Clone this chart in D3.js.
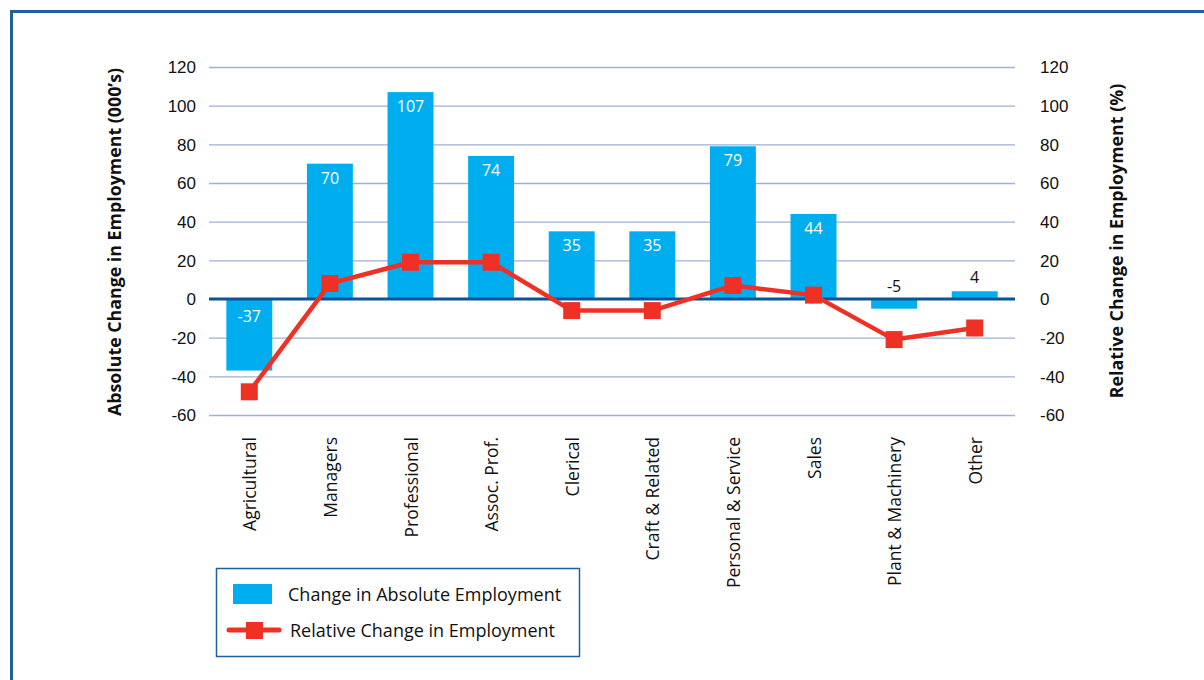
<!DOCTYPE html>
<html><head><meta charset="utf-8">
<script src="https://cdn.jsdelivr.net/npm/d3@7"></script>
<style>
html,body{margin:0;padding:0;background:#fff;}
svg{display:block;font-family:"Open Sans","Noto Sans",sans-serif;}
</style></head>
<body>
<svg id="chart" width="1204" height="680"></svg>
<script>
const categories = ["Agricultural","Managers","Professional","Assoc. Prof.","Clerical","Craft & Related","Personal & Service","Sales","Plant & Machinery","Other"];
const absoluteChange = [-37,70,107,74,35,35,79,44,-5,4];
const relativeChange = [-48,8,19,19,-6,-6,7,2,-21,-15];
const yTicks = [-60,-40,-20,0,20,40,60,80,100,120];
const seriesNames = ["Change in Absolute Employment","Relative Change in Employment"];
const leftTitle = "Absolute Change in Employment (000\u2019s)";
const rightTitle = "Relative Change in Employment (%)";

const svg = d3.select("#chart");
const barColor = "#00aeef", lineColor = "#ee3124", gridColor = "#9fb1d6", zeroColor = "#0b5394", frameColor = "#1f5fa3";

// frame
svg.append("rect").attr("x",11.5).attr("y",11.5).attr("width",1204).attr("height",700)
  .attr("fill","none").attr("stroke",frameColor).attr("stroke-width",3);

const x0 = 209, x1 = 1015;
const x = d3.scaleBand().domain(categories).range([x0,x1]).paddingInner(0.43).paddingOuter(0.215);
const y = d3.scaleLinear().domain([-60,120]).range([415,67]);
const yR = d3.scaleLinear().domain([-60,120]).range([415,67]);

// gridlines
svg.append("g").selectAll("line").data(yTicks.filter(d=>d!==0)).join("line")
  .attr("x1",x0).attr("x2",x1).attr("y1",d=>y(d)+0.5).attr("y2",d=>y(d)+0.5)
  .attr("stroke",gridColor).attr("stroke-width",1.3);

// left axis
const fmt = d => String(d);
const leftAxis = d3.axisLeft(y).tickValues(yTicks).tickFormat(fmt).tickSize(0).tickPadding(0);
const gL = svg.append("g").attr("transform","translate(196,0)").call(leftAxis);
gL.select(".domain").remove();
gL.selectAll("text").attr("font-size",17).attr("fill","#111").attr("font-family",null).attr("dy","0.35em");

// right axis
const rightAxis = d3.axisRight(yR).tickValues(yTicks).tickFormat(fmt).tickSize(0).tickPadding(0);
const gR = svg.append("g").attr("transform","translate(1040,0)").call(rightAxis);
gR.select(".domain").remove();
gR.selectAll("text").attr("font-size",17).attr("fill","#111").attr("font-family",null).attr("dy","0.35em");

// bars
const bw = x.bandwidth();
svg.append("g").selectAll("rect").data(absoluteChange).join("rect")
  .attr("x",(d,i)=>x(categories[i]))
  .attr("width",bw)
  .attr("y",d=>y(Math.max(0,d)))
  .attr("height",d=>Math.abs(y(d)-y(0)))
  .attr("fill",barColor);

// zero line
svg.append("line").attr("x1",x0).attr("x2",x1).attr("y1",y(0)).attr("y2",y(0))
  .attr("stroke",zeroColor).attr("stroke-width",3);

// bar labels
svg.append("g").selectAll("text").data(absoluteChange).join("text")
  .attr("x",(d,i)=>x(categories[i])+bw/2)
  .attr("y",d=>{
    if (Math.abs(d) < 10) return d>=0 ? y(d)-8 : y(0)-7;
    return d>=0 ? y(d)+20 : y(0)+23;
  })
  .attr("text-anchor","middle").attr("font-size",16)
  .attr("fill",d=>Math.abs(d)<10?"#111":"#fff")
  .text(d=>d);

// line
const line = d3.line().x((d,i)=>x(categories[i])+bw/2).y(d=>yR(d));
svg.append("path").datum(relativeChange).attr("d",line)
  .attr("fill","none").attr("stroke",lineColor).attr("stroke-width",4.5).attr("stroke-linejoin","round");
const ms = 17;
svg.append("g").selectAll("rect").data(relativeChange).join("rect")
  .attr("x",(d,i)=>x(categories[i])+bw/2-ms/2)
  .attr("y",d=>yR(d)-ms/2)
  .attr("width",ms).attr("height",ms).attr("fill",lineColor);

// category labels
svg.append("g").selectAll("text").data(categories).join("text")
  .attr("transform",d=>`translate(${x(d)+bw/2+7},437) rotate(-90)`)
  .attr("text-anchor","end").attr("font-size",17.5).attr("fill","#111")
  .text(d=>d);

// axis titles
svg.append("text").attr("transform","translate(121,242) rotate(-90)")
  .attr("text-anchor","middle").attr("font-size",17.8).attr("font-weight","bold").attr("fill","#111")
  .text(leftTitle);
svg.append("text").attr("transform","translate(1123,241) rotate(-90)")
  .attr("text-anchor","middle").attr("font-size",17.8).attr("font-weight","bold").attr("fill","#111")
  .text(rightTitle);

// legend
const lg = svg.append("g");
lg.append("rect").attr("x",216.5).attr("y",568.5).attr("width",363).attr("height",88)
  .attr("fill","#fff").attr("stroke",frameColor).attr("stroke-width",1.5);
lg.append("rect").attr("x",233).attr("y",584).attr("width",39).attr("height",20).attr("fill",barColor);
lg.append("text").attr("x",288).attr("y",601).attr("font-size",18).attr("fill","#111").text(seriesNames[0]);
lg.append("line").attr("x1",229).attr("x2",279).attr("y1",630).attr("y2",630)
  .attr("stroke",lineColor).attr("stroke-width",5).attr("stroke-linecap","round");
lg.append("rect").attr("x",246).attr("y",622).attr("width",17).attr("height",17).attr("fill",lineColor);
lg.append("text").attr("x",290).attr("y",637).attr("font-size",18).attr("fill","#111").text(seriesNames[1]);
</script>
</body></html>
